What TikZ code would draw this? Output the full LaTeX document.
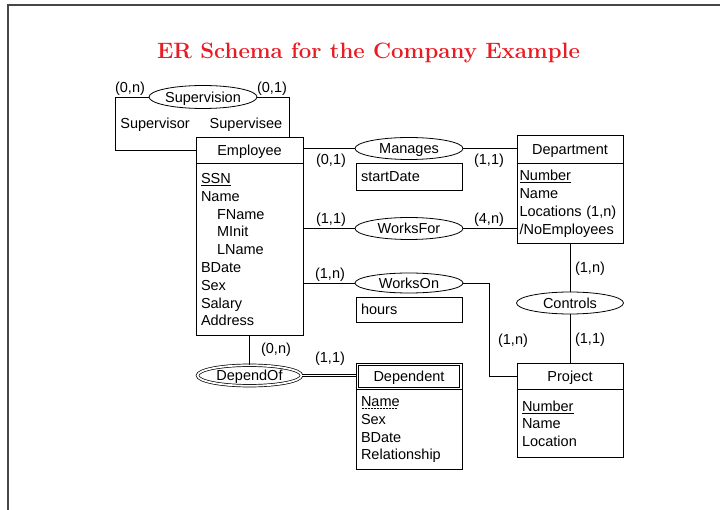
\documentclass[tikz,border=0pt]{standalone}
\usepackage{fontspec}
\setsansfont{Liberation Sans}
\usetikzlibrary{shapes.geometric}
\definecolor{titlered}{RGB}{232,28,36}
\definecolor{framegray}{RGB}{70,70,70}
\newcommand\dul[1]{\setbox0\hbox{#1}\rlap{\raisebox{-2.6pt}{\hbox to \wd0{\leaders\hbox to 3pt{\hss\vrule height 0.7pt depth 0pt width 2pt\hss}\hfill}}}\box0}
\tikzset{
  base/.style={font=\sffamily\fontsize{14.5}{17.8}\selectfont, text=black},
  ent/.style={base, draw, line width=0.8pt, minimum width=107pt, minimum height=26pt, inner sep=0pt, text height=10.4pt, text depth=0pt},
  attrs/.style={base, draw, line width=0.8pt, text width=97pt, align=left, inner xsep=5pt, inner ysep=0pt, anchor=north},
  rel/.style={base, ellipse, draw, line width=0.8pt, minimum width=108pt, minimum height=22pt, inner sep=0pt, text height=10.4pt, text depth=0pt},
  lab/.style={base, inner sep=0pt, text height=10.4pt, text depth=0pt},
  conn/.style={line width=0.8pt},
}
\begin{document}
\begin{tikzpicture}[x=1pt,y=-1pt]
\useasboundingbox (0,0) rectangle (720,510);
\draw[line width=1.6pt, framegray] (8,512) -- (8,5) -- (722,5);
\node[font=\bfseries\fontsize{22.2}{26}\selectfont, text=titlered, inner sep=0pt] (title) at (368.5,52.5) {ER Schema for the Company Example};

% entities
\node[ent] (emp) at (249.5,150) {Employee};
\node[attrs, minimum height=172pt] (empA) at (emp.south) {\underline{SSN}\\Name\\\hspace*{16pt}FName\\\hspace*{16pt}MInit\\\hspace*{16pt}LName\\BDate\\Sex\\Salary\\Address};
\node[ent, minimum width=106pt, minimum height=28pt] (dept) at (570,149) {Department};
\node[attrs, minimum height=80pt, inner xsep=2.5pt, text width=101pt] (deptA) at (dept.south) {\underline{Number}\\Name\\Locations (1,n)\\/NoEmployees};
\node[ent, minimum width=106pt] (proj) at (570,376) {Project};
\node[attrs, minimum height=68pt, inner xsep=5pt, text width=96pt] (projA) at (proj.south) {\underline{Number}\\Name\\Location\\[3pt]};
\node[ent, minimum width=106pt] (dep) at (409,376) {Dependent};
\draw[conn] ([shift={(3,3)}]dep.north west) rectangle ([shift={(-3,-2.5)}]dep.south east);
\node[attrs, minimum height=80pt, inner xsep=5pt, text width=96pt] (depA) at (dep.south) {\dul{Name}\\Sex\\BDate\\Relationship};

% relationships
\node[rel, minimum height=23pt] (sup) at (203,97) {Supervision};
\node[rel] (man) at (409,148.5) {Manages};
\node[attrs, minimum height=27pt, text width=96pt, anchor=center] (sd) at (409,176.5) {startDate};
\node[rel] (wf) at (409,228.5) {WorksFor};
\node[rel, minimum height=20pt] (won) at (409,283) {WorksOn};
\node[attrs, minimum height=25pt, text width=96pt, anchor=center] (hrs) at (409,309.5) {hours};
\node[rel, minimum width=107pt] (ctl) at (570,303) {Controls};
\node[rel, minimum width=104pt, minimum height=20.5pt, line width=0.7pt, double, double distance=1.8pt] (dof) at (249.5,375.5) {DependOf};

% connectors
\draw[conn] (sup.west) -- ++(-33,0) |- (emp.west);
\draw[conn] (sup.east) -| ([xshift=39.5pt]emp.north);
\draw[conn] (man.west) -- (man.west -| emp.east);
\draw[conn] (man.east) -- (man.east -| dept.west);
\draw[conn] (wf.west) -- (wf.west -| emp.east);
\draw[conn] (wf.east) -- (wf.east -| dept.west);
\draw[conn] (won.west) -- (won.west -| emp.east);
\draw[conn] (won.east) -- ++(26,0) |- (proj.west);
\draw[conn] (deptA.south) -- (ctl.north);
\draw[conn] (ctl.south) -- (proj.north);
\draw[conn] (empA.south) -- (dof.north);
\draw[line width=0.7pt, double, double distance=1.8pt] (dof.east) -- (dof.east -| dep.west);

% labels
\node[lab] (l1) at (130,87) {(0,n)};
\node[lab] (l2) at (272,87) {(0,1)};
\node[lab] (l3) at (155,123) {Supervisor};
\node[lab] (l4) at (246,123) {Supervisee};
\node[lab] (l5) at (331,159) {(0,1)};
\node[lab] (l6) at (489,159) {(1,1)};
\node[lab] (l7) at (331,218) {(1,1)};
\node[lab] (l8) at (489,218) {(4,n)};
\node[lab] (l9) at (330,273) {(1,n)};
\node[lab] (l10) at (513,339) {(1,n)};
\node[lab] (l11) at (590,267) {(1,n)};
\node[lab] (l12) at (590,338) {(1,1)};
\node[lab] (l13) at (276,348) {(0,n)};
\node[lab] (l14) at (330,357) {(1,1)};
\end{tikzpicture}
\end{document}
